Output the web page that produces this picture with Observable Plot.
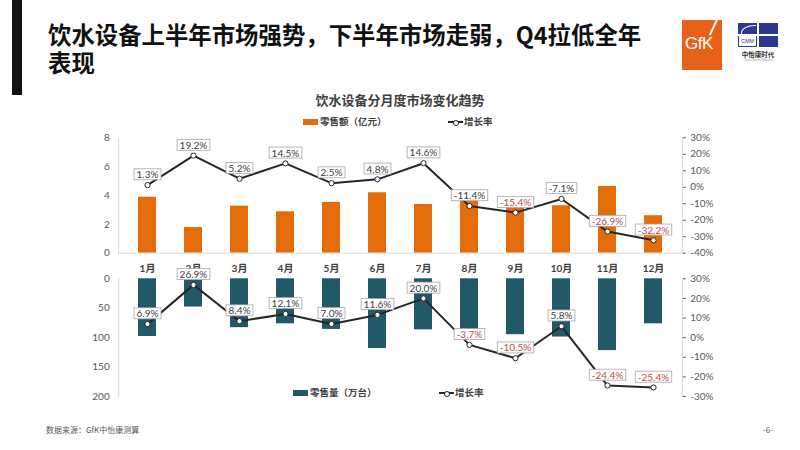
<!DOCTYPE html>
<html><head><meta charset="utf-8">
<script src="https://cdn.jsdelivr.net/npm/d3@7"></script>
<script src="https://cdn.jsdelivr.net/npm/@observablehq/plot@0.6"></script>
<style>
body{margin:0;background:#fff;}
#page{position:relative;width:800px;height:450px;overflow:hidden;background:#fff;font-family:'Noto Sans CJK SC',sans-serif;}
.abs{position:absolute;}
#bar{left:12px;top:0;width:10px;height:95px;background:#111;}
#title{left:48px;top:20px;font-size:23.4px;line-height:28px;font-weight:bold;color:#111;white-space:nowrap;}
#ctitle{left:0;width:800px;top:90px;text-align:center;font-size:13px;font-weight:bold;color:#404040;}
.leg{font-size:9.5px;color:#404040;font-weight:bold;white-space:nowrap;line-height:12px;}
.sw{display:inline-block;width:15px;height:6px;vertical-align:middle;margin-right:2px;}
.ln{display:inline-block;position:relative;width:15px;height:8px;vertical-align:middle;margin-right:1px;}
.ln:before{content:"";position:absolute;left:0;right:0;top:3px;height:2px;background:#262626;}
.ln:after{content:"";position:absolute;left:4.5px;top:1.5px;width:4px;height:4px;border-radius:50%;background:#fff;border:0.8px solid #262626;}
#foot{left:46px;top:424px;font-size:8px;color:#595959;}
#pg{left:763px;top:424px;font-size:8px;color:#595959;}
#gfk{left:682px;top:20px;width:40px;height:50px;background:#E8611A;overflow:hidden;}
#gfk span{position:absolute;left:3px;top:14px;color:#fff;font-family:'Liberation Sans',sans-serif;font-size:17px;letter-spacing:-0.5px;}
#gfk i{position:absolute;left:31px;top:-4px;width:1.5px;height:20px;background:#fff;transform:rotate(25deg);}
#cmm{left:738px;top:23px;width:40px;height:24px;background:#2B3990;}
#cmm .v{position:absolute;left:19px;top:0;width:1.5px;height:24px;background:#fff;}
#cmm .h{position:absolute;left:0;top:11px;width:40px;height:1.5px;background:#fff;}
#cmm .b{position:absolute;left:1px;top:13px;width:17px;height:10px;background:#fff;color:#2B3990;font-size:5.5px;font-family:'Liberation Sans',sans-serif;line-height:10px;text-align:center;}
#cmm .c{position:absolute;left:3px;top:2px;width:14px;height:8px;border-top-left-radius:14px 8px;border-top:1.5px solid #fff;border-left:1.5px solid #fff;}
#cmmtxt{left:736px;top:49px;width:44px;text-align:center;font-size:6.5px;font-weight:bold;color:#333;}
#cmmsub{left:736px;top:58px;width:44px;text-align:center;font-size:3px;color:#999;font-family:'Liberation Sans',sans-serif;}
#top{left:0;top:120px;}
#bot{left:0;top:258px;}
</style></head>
<body><div id="page">
<div id="bar" class="abs"></div>
<div id="title" class="abs">饮水设备上半年市场强势，下半年市场走弱，Q4拉低全年<br>表现</div>
<div id="gfk" class="abs"><span>GfK</span><i></i></div>
<div id="cmm" class="abs"><div class="c"></div><div class="v"></div><div class="h"></div><div class="b">CMM</div></div>
<div id="cmmtxt" class="abs">中怡康时代</div>
<div id="cmmsub" class="abs">China Market Monitor</div>
<div id="ctitle" class="abs">饮水设备分月度市场变化趋势</div>
<div id="top" class="abs"></div>
<div id="bot" class="abs"></div>
<div class="abs leg" style="left:303px;top:115px;"><span class="sw" style="background:#E46C0A"></span>零售额（亿元）</div>
<div class="abs leg" style="left:448px;top:115px;"><span class="ln"></span>增长率</div>
<div class="abs leg" style="left:293px;top:386px;"><span class="sw" style="background:#215968"></span>零售量（万台）</div>
<div class="abs leg" style="left:439px;top:386px;"><span class="ln"></span>增长率</div>
<div id="foot" class="abs">数据来源：GfK中怡康测算</div>
<div id="pg" class="abs">-6-</div>
</div>
<script>
const months = ["1月","2月","3月","4月","5月","6月","7月","8月","9月","10月","11月","12月"];
const salesValue = [3.88, 1.78, 3.26, 2.87, 3.52, 4.19, 3.38, 3.7, 3.15, 3.29, 4.63, 2.6];
const valueGrowth = [1.3, 19.2, 5.2, 14.5, 2.5, 4.8, 14.6, -11.4, -15.4, -7.1, -26.9, -32.2];
const salesVolume = [98, 48, 83, 76.5, 86, 118.5, 86.7, 88, 95, 99, 122, 76.5];
const volumeGrowth = [6.9, 26.9, 8.4, 12.1, 7.0, 11.6, 20.0, -3.7, -10.5, 5.8, -24.4, -25.4];
const valueTicks = [0, 2, 4, 6, 8];
const valueRateTicks = [-40, -30, -20, -10, 0, 10, 20, 30];
const volumeTicks = [0, 50, 100, 150, 200];
const volumeRateTicks = [-30, -20, -10, 0, 10, 20, 30];
const valueHighlight = ["9月", "11月", "12月"];
const volumeHighlight = ["8月", "9月", "11月", "12月"];

const ORANGE = "#E46C0A", TEAL = "#215968", LINE = "#262626", RED = "#BE4B48", DARK = "#404040", GRID = "#D9D9D9";
const FONT = "Lato, 'Noto Sans CJK SC', sans-serif";

const topData = months.map((m, i) => ({m, v: salesValue[i], r: valueGrowth[i], hi: valueHighlight.includes(m)}));
const botData = months.map((m, i) => ({m, v: salesVolume[i], r: volumeGrowth[i], hi: volumeHighlight.includes(m)}));

// dual-axis mappings
const topR = r => (r + 40) / 70 * 8;
const topRinv = y => Math.round(y * 70 / 8 - 40);
const botR = r => (30 - r) / 60 * 200;
const botRinv = y => Math.round(30 - y * 60 / 200);

const fmt = r => r.toFixed(1) + "%";

function rateMarks(data, yf) {
  return [
    Plot.line(data, {x: "m", y: d => yf(d.r), stroke: LINE, strokeWidth: 2}),
    Plot.dot(data, {x: "m", y: d => yf(d.r), r: 2.6, fill: "#fff", stroke: LINE, strokeWidth: 1}),
    Plot.text(data.filter(d => !d.hi), {x: "m", y: d => yf(d.r), text: d => fmt(d.r), dy: -10, fill: DARK, fontSize: 10}),
    Plot.text(data.filter(d => d.hi), {x: "m", y: d => yf(d.r), text: d => fmt(d.r), dy: -10, fill: RED, fontSize: 10})
  ];
}

const common = {
  width: 800,
  marginLeft: 118.2,
  marginRight: 118.2,
  style: {fontFamily: FONT, fontSize: "10px", color: "#595959", background: "transparent", overflow: "visible"},
  x: {domain: months, paddingInner: 0.6, paddingOuter: 0.3, axis: null, label: null},
};

const topPlot = Plot.plot({
  ...common,
  height: 160,
  marginTop: 17.3,
  marginBottom: 27.3,
  y: {domain: [0, 8], axis: null, label: null},
  marks: [
    Plot.frame({anchor: "left", stroke: GRID}),
    Plot.frame({anchor: "right", stroke: GRID}),
    Plot.barY(topData, {x: "m", y: "v", fill: ORANGE}),
    Plot.ruleY([0], {stroke: GRID}),
    Plot.axisY(valueTicks, {anchor: "left", tickSize: 0, tickPadding: 9, color: "#595959", label: null}),
    Plot.axisY(valueRateTicks.map(topR), {anchor: "right", tickSize: 3, tickPadding: 5, tickFormat: y => topRinv(y) + "%", color: "#595959", label: null}),
    Plot.axisX({anchor: "bottom", tickSize: 0, tickPadding: 12, fontWeight: "bold", color: DARK, label: null}),
    ...rateMarks(topData, topR)
  ]
});

const botPlot = Plot.plot({
  ...common,
  height: 150,
  marginTop: 20.3,
  marginBottom: 12,
  y: {domain: [0, 200], reverse: true, axis: null, label: null},
  marks: [
    Plot.frame({anchor: "left", stroke: GRID}),
    Plot.frame({anchor: "right", stroke: GRID}),
    Plot.barY(botData, {x: "m", y: "v", fill: TEAL}),
    Plot.axisY(volumeTicks, {anchor: "left", tickSize: 0, tickPadding: 9, color: "#595959", label: null}),
    Plot.axisY(volumeRateTicks.map(botR), {anchor: "right", tickSize: 3, tickPadding: 5, tickFormat: y => botRinv(y) + "%", color: "#595959", label: null}),
    ...rateMarks(botData, botR)
  ]
});

document.getElementById("top").appendChild(topPlot);
document.getElementById("bot").appendChild(botPlot);

function boxLabels(svg) {
  const texts = Array.from(svg.querySelectorAll("text")).filter(t => /^-?\d+\.\d%$/.test(t.textContent.trim()));
  texts.forEach(t => {
    const b = t.getBBox();
    const r = document.createElementNS("http://www.w3.org/2000/svg", "rect");
    r.setAttribute("x", b.x - 2.5);
    r.setAttribute("y", b.y + 0.5);
    r.setAttribute("width", b.width + 5);
    r.setAttribute("height", b.height - 1);
    r.setAttribute("fill", "#fff");
    r.setAttribute("stroke", "#A6A6A6");
    r.setAttribute("stroke-width", "0.8");
    const tr = t.getAttribute("transform");
    if (tr) r.setAttribute("transform", tr);
    t.parentNode.insertBefore(r, t);
  });
}
boxLabels(topPlot);
boxLabels(botPlot);
</script>
</body></html>
